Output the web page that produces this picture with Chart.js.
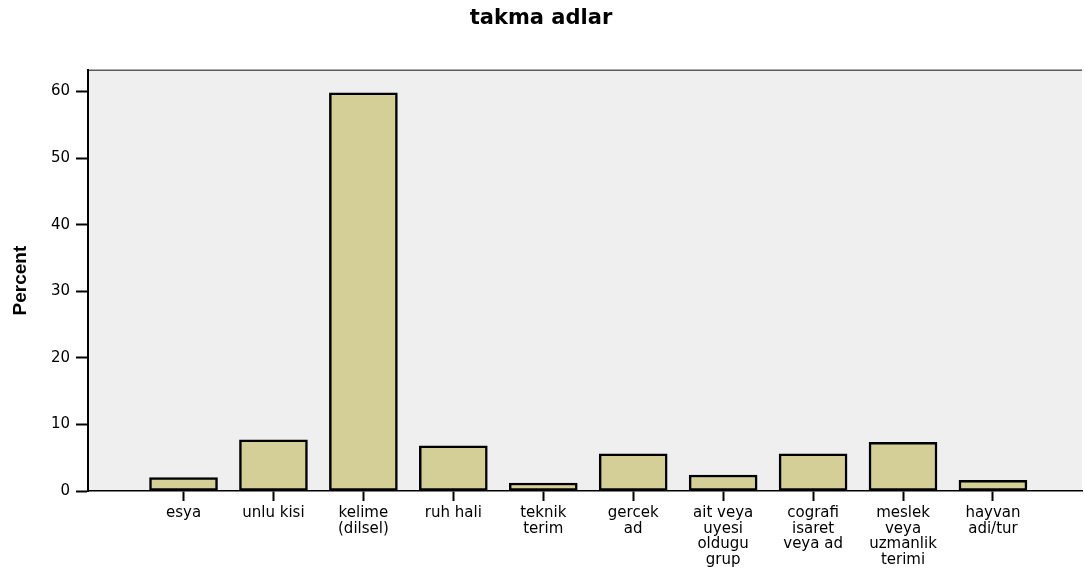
<!DOCTYPE html>
<html>
<head>
<meta charset="utf-8">
<script src="https://cdn.jsdelivr.net/npm/chart.js@4"></script>
<style>
  html, body { margin: 0; padding: 0; background: #fff; }
  canvas { display: block; }
</style>
</head>
<body>
<canvas id="myChart" width="1084" height="571"></canvas>
<script>
// kategoriler (cok satirli etiketler)
const kategoriler = [
    ['esya'],
    ['unlu kisi'],
    ['kelime', '(dilsel)'],
    ['ruh hali'],
    ['teknik', 'terim'],
    ['gercek', 'ad'],
    ['ait veya', 'uyesi', 'oldugu', 'grup'],
    ['cografi', 'isaret', 'veya ad'],
    ['meslek', 'veya', 'uzmanlik', 'terimi'],
    ['hayvan', 'adi/tur']
];
const yuzdeler = [2.0, 7.7, 59.8, 6.8, 1.2, 5.6, 2.4, 5.6, 7.3, 1.6];
const yTikler = [0, 10, 20, 30, 40, 50, 60];

// arka plan ve ust cizgi
const plotArkaPlan = {
    id: 'plotArkaPlan',
    beforeDraw(chart) {
        const a = chart.chartArea;
        const ctx = chart.ctx;
        ctx.save();
        ctx.fillStyle = '#efefef';
        ctx.fillRect(a.left, a.top, a.right - a.left, a.bottom - a.top);
        ctx.strokeStyle = '#5a5a5a';
        ctx.lineWidth = 1.5;
        ctx.beginPath();
        ctx.moveTo(a.left, a.top);
        ctx.lineTo(a.right, a.top);
        ctx.stroke();
        ctx.restore();
    }
};

const veri = yuzdeler.map((v, i) => ({ x: i, y: v }));

var ctx = document.getElementById('myChart').getContext('2d');
var chart = new Chart(ctx, {
    type: 'bar',
    data: {
        datasets: [{
            label: 'Percent',
            data: veri,
            backgroundColor: '#d3cf97',
            borderColor: '#000000',
            borderWidth: 2.5,
            borderSkipped: false,
            barThickness: 68
        }]
    },
    options: {
        responsive: false,
        animation: false,
        devicePixelRatio: 1,
        layout: { padding: { left: 0, right: 2, top: 0, bottom: 0 } },
        plugins: {
            legend: { display: false },
            tooltip: { enabled: false },
            title: {
                display: true,
                text: 'takma adlar',
                color: '#000',
                font: { family: 'DejaVu Sans', size: 21, weight: 'bold' },
                padding: { top: 6, bottom: 39 }
            }
        },
        scales: {
            x: {
                type: 'linear',
                offset: false,
                min: -1.062,
                max: 9.99,
                afterBuildTicks: (s) => { s.ticks = kategoriler.map((c, i) => ({ value: i })); },
                afterFit: (s) => { s.height = 80; },
                ticks: {
                    autoSkip: false,
                    maxRotation: 0,
                    padding: 4,
                    color: '#000',
                    font: { family: 'DejaVu Sans', size: 15, lineHeight: 1.05 },
                    callback: (v) => kategoriler[v]
                },
                grid: {
                    offset: false,
                    drawOnChartArea: false,
                    drawTicks: true,
                    tickLength: 10,
                    tickWidth: 2,
                    tickColor: '#000'
                },
                border: { color: '#000', width: 1.5 }
            },
            y: {
                min: 0,
                max: 63.2,
                afterBuildTicks: (s) => { s.ticks = yTikler.map(v => ({ value: v })); },
                afterFit: (s) => { s.width = 88; },
                ticks: {
                    padding: 6,
                    color: '#000',
                    font: { family: 'DejaVu Sans', size: 15 }
                },
                grid: {
                    drawOnChartArea: false,
                    drawTicks: true,
                    tickLength: 12,
                    tickWidth: 2,
                    tickColor: '#000'
                },
                border: { color: '#000', width: 2 },
                title: {
                    display: true,
                    text: 'Percent',
                    color: '#000',
                    font: { family: 'Liberation Sans', size: 19, weight: 'bold' },
                    padding: { top: 9, bottom: 0 }
                }
            }
        }
    },
    plugins: [plotArkaPlan]
});
</script>
</body>
</html>
